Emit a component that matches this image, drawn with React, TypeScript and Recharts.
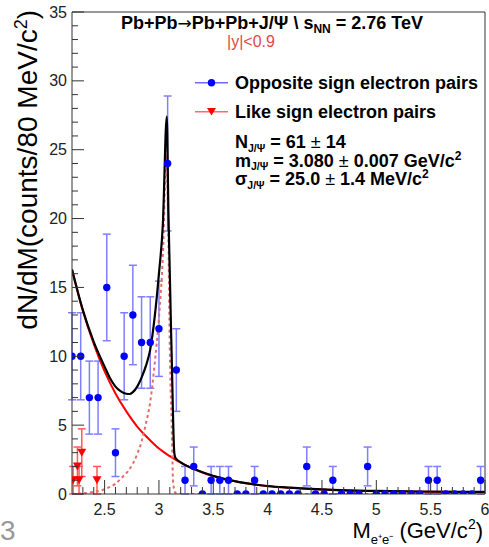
import React from 'react'
import { ComposedChart, Line, Scatter, XAxis, YAxis, ErrorBar, ReferenceLine } from 'recharts'

const FONT = '"Liberation Sans", Arial, Helvetica, sans-serif'

// opposite sign pairs, 80 MeV bins
const osMass = [
  2.2, 2.28, 2.36, 2.44, 2.52, 2.6, 2.68, 2.76, 2.84, 2.92, 3.0, 3.08, 3.16, 3.24, 3.32, 3.4,
  3.48, 3.56, 3.64, 3.72, 3.8, 3.88, 3.96, 4.04, 4.12, 4.2, 4.28, 4.36, 4.44, 4.52, 4.6, 4.68,
  4.76, 4.84, 4.92, 5.0, 5.08, 5.16, 5.24, 5.32, 5.4, 5.48, 5.56, 5.64, 5.72, 5.8, 5.88, 5.96,
]
const osCounts = [
  10, 10, 7, 7, 15, 3, 10, 13, 11, 11, 12, 24, 9, 1, 2, 0,
  1, 1, 1, 0, 0, 1, 0, 0, 0, 0, 0, 2, 0, 0, 1, 0,
  0, 0, 2, 0, 0, 0, 0, 0, 0, 1, 1, 0, 0, 0, 0, 1,
]
const osErr = [
  3.16, 3.16, 2.65, 2.65, 3.87, 1.73, 3.16, 3.61, 3.32, 3.32, 3.46, 4.9, 3, 1, 1.41, 0,
  1, 1, 1, 0, 0, 1, 0, 0, 0, 0, 0, 1.41, 0, 0, 1, 0,
  0, 0, 1.41, 0, 0, 0, 0, 0, 0, 1, 1, 0, 0, 0, 0, 1,
]

// like sign pairs
const lsMass = [2.21, 2.25, 2.265, 2.29, 2.43]
const lsCounts = [1, 2, 1, 3, 1]
const lsErr = [1, 1.41, 1, 1.73, 1]

// background (red), J/psi signal (dashed) and total fit (black)
const bgX = [2.2, 2.3, 2.4, 2.5, 2.6, 2.7, 2.8, 2.9, 3.0, 3.1, 3.2, 3.3, 3.4, 3.6, 3.8, 4.0, 4.2, 4.4, 4.6, 4.8, 5.0, 5.4, 5.8, 6.0]
const bgY = [16.3, 13.3, 10.9, 8.9, 7.3, 6.0, 4.9, 4.05, 3.3, 2.75, 2.27, 1.88, 1.56, 1.09, 0.78, 0.57, 0.45, 0.36, 0.29, 0.24, 0.21, 0.17, 0.15, 0.15]

const sigX = [2.2, 2.3, 2.4, 2.5, 2.6, 2.66, 2.72, 2.76, 2.8, 2.84, 2.88, 2.92, 2.96, 3.0, 3.036, 3.068, 3.087, 3.1, 3.117, 3.131, 3.15, 3.17, 3.3, 4.0, 5.0, 6.0]
const sigY = [0, 0.05, 0.15, 0.35, 0.75, 1.2, 1.7, 2.2, 2.9, 3.8, 5.1, 6.7, 9.4, 12.8, 17.3, 24.6, 18.5, 10.5, 5, 0.8, 0.1, 0, 0, 0, 0, 0]

const totX = [2.2, 2.3, 2.4, 2.5, 2.55, 2.6, 2.65, 2.7, 2.73, 2.76, 2.8, 2.84, 2.88, 2.92, 2.96, 3.0, 3.036, 3.072, 3.087, 3.117, 3.141, 3.15, 3.2, 3.3, 3.4, 3.6, 3.8, 4.0, 4.2, 4.4, 4.6, 4.8, 5.0, 5.4, 5.8, 6.0]
const totY = [16.3, 13.35, 11.05, 9.25, 8.4, 7.8, 7.45, 7.28, 7.26, 7.4, 7.8, 8.45, 9.3, 10.5, 12.8, 16.0, 19.6, 27.4, 20.5, 10.1, 3.0, 2.65, 2.3, 1.9, 1.58, 1.1, 0.79, 0.58, 0.46, 0.37, 0.3, 0.25, 0.22, 0.18, 0.16, 0.16]

const xTicks = [
  2.3, 2.4, 2.5, 2.6, 2.7, 2.8, 2.9, 3, 3.1, 3.2, 3.3, 3.4, 3.5, 3.6, 3.7, 3.8, 3.9, 4, 4.1, 4.2,
  4.3, 4.4, 4.5, 4.6, 4.7, 4.8, 4.9, 5, 5.1, 5.2, 5.3, 5.4, 5.5, 5.6, 5.7, 5.8, 5.9, 6,
]
const xLabels = [2.5, 3, 3.5, 4, 4.5, 5, 5.5, 6]
const yTicks = [
  0, 1, 2, 3, 4, 5, 6, 7, 8, 9, 10, 11, 12, 13, 14, 15, 16, 17, 18,
  19, 20, 21, 22, 23, 24, 25, 26, 27, 28, 29, 30, 31, 32, 33, 34, 35,
]
const yLabels = [0, 5, 10, 15, 20, 25, 30, 35]

const zip = (xs: number[], ys: number[], es?: number[]) =>
  xs.map((x, i) => ({ x, y: ys[i], err: es ? es[i] : 0 }))

const osData = zip(osMass, osCounts, osErr)
const lsData = zip(lsMass, lsCounts, lsErr)
const bgData = zip(bgX, bgY)
const sigData = zip(sigX, sigY)
const totData = zip(totX, totY)

const TICK_MARGIN = 6
const AXIS_COLOR = '#333'

function YTick({ x, y, payload }: any) {
  const v = payload.value
  const major = yLabels.includes(v)
  const ax = x + TICK_MARGIN
  return (
    <g>
      <line x1={ax} x2={ax + (major ? 12 : 6)} y1={y} y2={y} stroke={AXIS_COLOR} strokeWidth={1} />
      {major && (
        <text x={ax - 5} y={y} dy={5.5} textAnchor="end" fontSize={16} fontFamily={FONT} fill="#222">
          {v}
        </text>
      )}
    </g>
  )
}

function XTick({ x, y, payload }: any) {
  const v = payload.value
  const major = xLabels.some(l => Math.abs(l - v) < 1e-6)
  const ay = y - TICK_MARGIN
  return (
    <g>
      <line x1={x} x2={x} y1={ay} y2={ay - (major ? 14 : 7)} stroke={AXIS_COLOR} strokeWidth={1} />
      {major && (
        <text x={x} y={ay + 21} textAnchor="middle" fontSize={16} fontFamily={FONT} fill="#222">
          {v}
        </text>
      )}
    </g>
  )
}

const DownTriangle = ({ cx, cy, fill }: any) => (
  <path d={`M${cx - 4.5},${cy - 4} L${cx + 4.5},${cy - 4} L${cx},${cy + 4} Z`} fill={fill} />
)

const Dot = ({ cx, cy }: any) => <circle cx={cx} cy={cy} r={3.7} fill="#0000ff" />

// fit results, bold with a thin plus-minus sign
const FitLine = ({ y, sym, rest, val, err, unit }: any) => (
  <text x={235} y={y} fontSize={18} fontWeight="bold">
    {sym}
    <tspan fontSize={10.5} dy={3.5}>J/Ψ</tspan>
    <tspan dy={-3.5}>{` = ${val} `}</tspan>
    <tspan fontWeight="normal">±</tspan>
    {` ${err}${rest}`}
    {unit && <tspan fontSize={12} dy={-7}>2</tspan>}
  </text>
)

export default function App() {
  return (
    <div style={{ position: 'absolute', left: 0, top: 0, width: 489, height: 547, background: '#fff' }}>
      <ComposedChart width={489} height={547} margin={{ top: 12, right: 4, bottom: 0, left: 0 }}>
        <XAxis
          dataKey="x"
          type="number"
          domain={[2.2, 6]}
          ticks={xTicks}
          interval={0}
          tick={(p: any) => <XTick {...p} />}
          tickLine={false}
          tickSize={0}
          tickMargin={TICK_MARGIN}
          height={53}
          axisLine={{ stroke: AXIS_COLOR }}
          allowDataOverflow
        />
        <YAxis
          dataKey="y"
          type="number"
          domain={[0, 35]}
          ticks={yTicks}
          interval={0}
          tick={(p: any) => <YTick {...p} />}
          tickLine={false}
          tickSize={0}
          tickMargin={TICK_MARGIN}
          width={72}
          axisLine={{ stroke: AXIS_COLOR }}
          allowDataOverflow
        />
        <ReferenceLine y={35} stroke={AXIS_COLOR} />
        <ReferenceLine x={6} stroke={AXIS_COLOR} />

        <Scatter data={osData} shape={<Dot />} isAnimationActive={false}>
          <ErrorBar dataKey="err" direction="y" width={4} stroke="#7f7fff" strokeWidth={1.5} />
        </Scatter>
        <Scatter data={lsData} fill="#ff0000" shape={<DownTriangle />} isAnimationActive={false}>
          <ErrorBar dataKey="err" direction="y" width={4} stroke="#ff5a5a" strokeWidth={1.5} />
        </Scatter>

        <Line data={bgData} dataKey="y" type="monotone" stroke="#ff0000" strokeWidth={2} dot={false} isAnimationActive={false} />
        <Line data={sigData} dataKey="y" type="monotone" stroke="#e86a6a" strokeWidth={2} strokeDasharray="3 3" dot={false} isAnimationActive={false} />
        <Line data={totData} dataKey="y" type="monotone" stroke="#000" strokeWidth={2.2} dot={false} isAnimationActive={false} />
      </ComposedChart>

      <svg width={489} height={547} style={{ position: 'absolute', left: 0, top: 0, pointerEvents: 'none' }} fontFamily={FONT}>
        {/* title */}
        <text x={272} y={28.5} textAnchor="middle" fontSize={18} fontWeight="bold" fill="#000">
          Pb+Pb<tspan fontFamily='"DejaVu Sans", sans-serif' fontWeight="normal" fontSize={17}>→</tspan>Pb+Pb+J/Ψ \ s
          <tspan fontSize={12} dy={4}>NN</tspan>
          <tspan dy={-4}> = 2.76 TeV</tspan>
        </text>
        <text x={251} y={47} textAnchor="middle" fontSize={16} fill="#e04848">|y|&lt;0.9</text>

        {/* legend */}
        <line x1={195} x2={228} y1={82.7} y2={82.7} stroke="#6b6bff" strokeWidth={1.5} />
        <circle cx={211.5} cy={82.7} r={3.7} fill="#0000ff" />
        <text x={235} y={88.5} fontSize={18} fontWeight="bold">Opposite sign electron pairs</text>

        <line x1={195} x2={228} y1={111.7} y2={111.7} stroke="#ff6b6b" strokeWidth={1.5} />
        <path d="M207,108 L216,108 L211.5,115.5 Z" fill="#ff0000" />
        <text x={235} y={117.5} fontSize={18} fontWeight="bold">Like sign electron pairs</text>

        <FitLine y={148} sym="N" val="61" err="14" rest="" />
        <FitLine y={166.5} sym="m" val="3.080" err="0.007" rest=" GeV/c" unit />
        <FitLine y={185} sym="σ" val="25.0" err="1.4" rest=" MeV/c" unit />

        {/* axis titles */}
        <text x={37} y={10} transform="rotate(-90 37 10)" textAnchor="end" fontSize={28} fill="#000">
          dN/dM(counts/80 MeV/c<tspan fontSize={18} dy={-10}>2</tspan>
          <tspan dy={10}>)</tspan>
        </text>
        <text x={483} y={538} textAnchor="end" fontSize={22} fill="#000">
          M<tspan fontSize={13} dy={6}>e⁺e⁻</tspan>
          <tspan dy={-6}> (GeV/c</tspan>
          <tspan fontSize={14} dy={-9}>2</tspan>
          <tspan dy={9}>)</tspan>
        </text>

        <text x={0} y={540} fontSize={28} fill="#999">3</text>
      </svg>
    </div>
  )
}
